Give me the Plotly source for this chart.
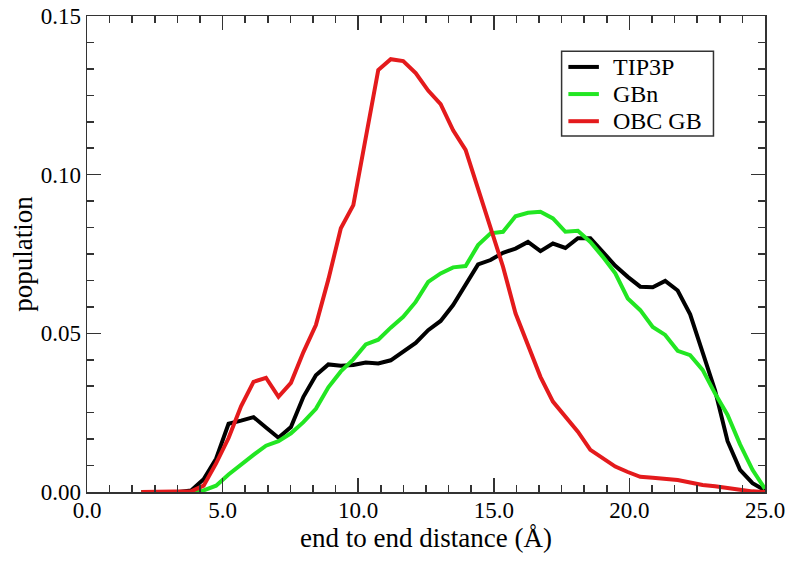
import plotly.graph_objects as go

# distance grid (Å)
distance = [round(2.0 + 0.46 * i, 2) for i in range(51)]

tip3p = [0, 0, 0, 0, 0.0005, 0.004, 0.0105, 0.0215, 0.0225, 0.0236,
         0.0203, 0.0171, 0.0205, 0.030, 0.0368, 0.0402, 0.0398, 0.0400, 0.0408, 0.0405,
         0.0415, 0.0441, 0.047, 0.051, 0.0539, 0.0589, 0.0655, 0.0717, 0.0731, 0.0754,
         0.0767, 0.0788, 0.0759, 0.0783, 0.0769, 0.0800, 0.0800, 0.0755, 0.0713, 0.0678,
         0.0647, 0.0645, 0.0665, 0.0635, 0.0560, 0.0440, 0.0320, 0.0160, 0.0070, 0.0028,
         0.0005]

gbn = [0, 0, 0, 0, 0, 0.0005, 0.002, 0.0055, 0.0087, 0.0117,
       0.0146, 0.0160, 0.0185, 0.0220, 0.0262, 0.0330, 0.0380, 0.0418, 0.0465, 0.0480,
       0.0518, 0.0552, 0.0599, 0.0662, 0.0689, 0.0708, 0.0712, 0.0778, 0.0815, 0.0820,
       0.0869, 0.0880, 0.0883, 0.0862, 0.0820, 0.0823, 0.0788, 0.0741, 0.0689, 0.0610,
       0.0573, 0.0520, 0.0495, 0.0445, 0.0431, 0.0385, 0.0310, 0.0243, 0.0150, 0.0070,
       0.0010]

obc_gb = [0, 0, 0, 0, 0.0002, 0.002, 0.009, 0.017, 0.027, 0.0347,
          0.0360, 0.0300, 0.0344, 0.0441, 0.0526, 0.0670, 0.0831, 0.0904, 0.1120, 0.1330,
          0.1364, 0.1358, 0.1320, 0.1265, 0.1222, 0.1140, 0.1078, 0.0957, 0.0837, 0.0710,
          0.0563, 0.0460, 0.0363, 0.0285, 0.0235, 0.0190, 0.0133, 0.0105, 0.0080, 0.0063,
          0.0048, 0.0045, 0.0042, 0.0038, 0.0030, 0.0022, 0.0018, 0.0014, 0.0007, 0.0002,
          0.0]

series_names = ["TIP3P", "GBn", "OBC GB"]
series_values = [tip3p, gbn, obc_gb]
series_colors = ["#000000", "#22e622", "#e41a1c"]

x_ticks = [0, 5, 10, 15, 20, 25]
y_ticks = [0.0, 0.05, 0.10, 0.15]

FONT = "Liberation Serif, Times New Roman, serif"
AX = "#333333"

fig = go.Figure()
for name, vals, col in zip(series_names, series_values, series_colors):
    fig.add_trace(go.Scatter(x=distance, y=vals, mode="lines", name=name,
                             line=dict(color=col, width=4), showlegend=False,
                             hoverinfo="skip"))

axis_common = dict(
    showline=True, linecolor=AX, linewidth=1.5, mirror="allticks",
    ticks="inside", ticklen=14, tickwidth=1.5, tickcolor=AX,
    showgrid=False, zeroline=False, automargin=False, ticklabeloverflow="allow",
    tickfont=dict(family=FONT, size=23, color="black"),
)

fig.update_xaxes(
    range=[0, 25], tickvals=x_ticks, ticktext=[f"{v:.1f}" for v in x_ticks],
    minor=dict(ticks="inside", ticklen=7, tickwidth=1.5, tickcolor=AX, dtick=5/6, tick0=0),
    ticklabelstandoff=-3,
    title=dict(text="end to end distance (Å)", font=dict(family=FONT, size=27, color="black"), standoff=2),
    **axis_common,
)
fig.update_yaxes(
    range=[0, 0.15], tickvals=y_ticks, ticktext=[f"{v:.2f}" for v in y_ticks],
    minor=dict(ticks="inside", ticklen=7, tickwidth=1.5, tickcolor=AX, dtick=0.05/6, tick0=0),
    title=dict(text="population", font=dict(family=FONT, size=27, color="black"), standoff=0),
    **axis_common,
)

# legend box drawn in paper coordinates
leg_x0, leg_x1, leg_y0, leg_y1 = 0.700, 0.924, 0.748, 0.926
line_x0, line_x1, text_x = 0.710, 0.755, 0.774
row_y = [0.893, 0.836, 0.779]

shapes = [dict(type="rect", xref="paper", yref="paper", x0=leg_x0, x1=leg_x1, y0=leg_y0, y1=leg_y1,
               line=dict(color=AX, width=1.5), fillcolor="white", layer="above")]
annotations = []
for name, col, ry in zip(series_names, series_colors, row_y):
    shapes.append(dict(type="line", xref="paper", yref="paper", x0=line_x0, x1=line_x1, y0=ry, y1=ry,
                       line=dict(color=col, width=4), layer="above"))
    annotations.append(dict(xref="paper", yref="paper", x=text_x, y=ry, text=name, showarrow=False,
                            xanchor="left", yanchor="middle", borderpad=0,
                            font=dict(family=FONT, size=24, color="black")))

fig.update_layout(
    width=795, height=561,
    margin=dict(l=87, r=29.5, t=16, b=69.3),
    plot_bgcolor="white", paper_bgcolor="white",
    font=dict(family=FONT, color="black"),
    showlegend=False, hovermode=False,
    shapes=shapes, annotations=annotations,
)

# remove the default page margin so the figure fills the window exactly
fig.write_html("out.html", config={"displayModeBar": False, "staticPlot": True},
               post_script="document.body.style.margin='0';document.body.style.overflow='hidden';")
